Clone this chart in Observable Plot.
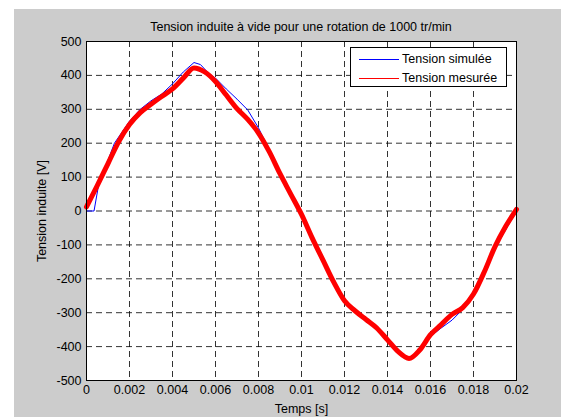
<!DOCTYPE html>
<html><head><meta charset="utf-8">
<script src="https://cdn.jsdelivr.net/npm/d3@7"></script>
<script src="https://cdn.jsdelivr.net/npm/@observablehq/plot@0.6"></script>
<style>
body{margin:0;background:#fff;font-family:"Liberation Sans",Arial,sans-serif;}
#fig{position:absolute;left:14px;top:9px;width:547px;height:408px;background:#cccccc;}
#chart{position:absolute;left:0;top:0;}
#title{position:absolute;left:72px;width:430px;top:11px;text-align:center;font-size:12.5px;color:#000;white-space:nowrap;}
#legend{position:absolute;left:336px;top:38px;width:155px;height:38px;border:1px solid #000;background:#fff;font-size:12.5px;color:#000;}
.row{position:absolute;left:0;height:14px;line-height:14px;}
.sw{position:absolute;left:8px;top:7px;width:40px;height:1px;}
.lb{position:absolute;left:51px;top:0;white-space:nowrap;}
</style>
</head><body>
<div id="fig">
  <div id="chart"></div>
  <div id="title"></div>
  <div id="legend"></div>
</div>
<script>
const titleText = "Tension induite à vide pour une rotation de 1000 tr/min";
const xLabel = "Temps [s]";
const yLabel = "Tension induite [V]";
const seriesNames = ["Tension simulée", "Tension mesurée"];
const seriesColors = ["#0000ff", "#ff0000"];
const xTicks = [0, 0.002, 0.004, 0.006, 0.008, 0.01, 0.012, 0.014, 0.016, 0.018, 0.02];
const yTicks = [-500, -400, -300, -200, -100, 0, 100, 200, 300, 400, 500];

// Tension simulée
const simT = [0, 0.00035, 0.0006, 0.001, 0.0013, 0.002, 0.0025, 0.003, 0.0035, 0.004, 0.0045, 0.005, 0.0053, 0.0057, 0.006, 0.0065, 0.007, 0.0075, 0.008, 0.0085, 0.009, 0.0095, 0.01, 0.0105, 0.011, 0.0115, 0.012, 0.0125, 0.013, 0.0135, 0.014, 0.0145, 0.015, 0.0153, 0.0157, 0.016, 0.0165, 0.017, 0.0175, 0.018, 0.0185, 0.019, 0.0195, 0.02];
const simV = [0, 0, 90, 150, 200, 265, 300, 325, 345, 375, 410, 438, 432, 405, 392, 360, 330, 298, 245, 180, 115, 55, -5, -75, -140, -200, -265, -300, -320, -345, -380, -415, -432, -425, -395, -370, -345, -322, -290, -240, -175, -110, -55, 0];

// Tension mesurée
const mesT = [0, 0.0005, 0.001, 0.0015, 0.002, 0.0025, 0.003, 0.0035, 0.004, 0.0045, 0.005, 0.0055, 0.006, 0.0065, 0.007, 0.0075, 0.008, 0.0085, 0.009, 0.0095, 0.01, 0.0105, 0.011, 0.0115, 0.012, 0.0125, 0.013, 0.0135, 0.014, 0.0145, 0.015, 0.0155, 0.016, 0.0165, 0.017, 0.0175, 0.018, 0.0185, 0.019, 0.0195, 0.02];
const mesV = [12, 75, 140, 205, 255, 290, 315, 338, 360, 392, 422, 410, 382, 342, 302, 270, 230, 175, 110, 50, -10, -80, -145, -210, -265, -295, -320, -345, -380, -415, -435, -410, -365, -335, -305, -285, -245, -180, -105, -45, 5];

const sim = simT.map((t, i) => ({t, v: simV[i]}));
const mes = mesT.map((t, i) => ({t, v: mesV[i]}));

const grid = {stroke: "#000", strokeOpacity: 0.8, strokeDasharray: "6,4"};
const fmt = d => String(d);

const chart = Plot.plot({
  width: 547, height: 408,
  marginLeft: 72, marginRight: 45, marginTop: 32, marginBottom: 37,
  style: {background: "transparent", fontFamily: "'Liberation Sans', Arial, sans-serif", fontSize: "12.5px", color: "#000"},
  x: {domain: [0, 0.02]},
  y: {domain: [-500, 500]},
  marks: [
    Plot.frame({fill: "white"}),
    Plot.gridX(xTicks, grid),
    Plot.gridY(yTicks, grid),
    Plot.axisX(xTicks, {anchor: "bottom", tickSize: 0, tickPadding: 5, tickFormat: fmt, fontSize: 12.5, label: xLabel, labelAnchor: "center", labelArrow: "none", labelOffset: 32}),
    Plot.axisY(yTicks, {anchor: "left", tickSize: 0, tickPadding: 5, tickFormat: fmt, fontSize: 12.5, label: yLabel, labelAnchor: "center", labelArrow: "none", labelOffset: 49}),
    Plot.line(sim, {x: "t", y: "v", stroke: seriesColors[0], strokeWidth: 1}),
    Plot.line(mes, {x: "t", y: "v", stroke: seriesColors[1], strokeWidth: 5, curve: "monotone-x"}),
    Plot.frame({stroke: "#000", strokeWidth: 1})
  ]
});
document.getElementById("chart").appendChild(chart);
document.getElementById("title").textContent = titleText;

const leg = document.getElementById("legend");
seriesNames.forEach((name, i) => {
  const row = document.createElement("div");
  row.className = "row";
  row.style.top = (4 + i * 19) + "px";
  row.style.width = "100%";
  const sw = document.createElement("div");
  sw.className = "sw";
  sw.style.background = seriesColors[i];
  const lb = document.createElement("div");
  lb.className = "lb";
  lb.textContent = name;
  row.appendChild(sw); row.appendChild(lb);
  leg.appendChild(row);
});
</script>
</body></html>
